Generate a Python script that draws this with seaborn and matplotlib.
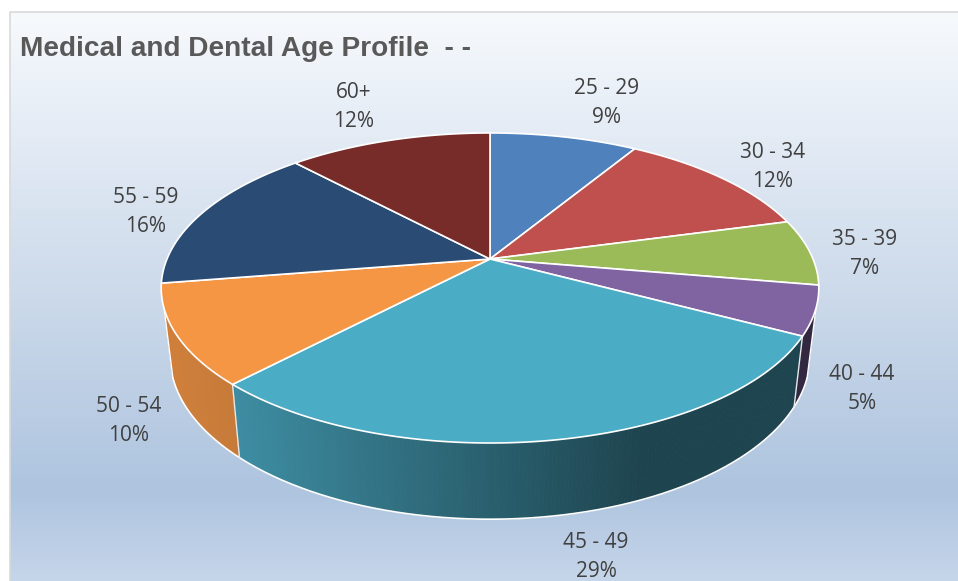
import numpy as np
import seaborn as sns
import matplotlib.pyplot as plt
from matplotlib.colors import to_rgb

age_groups = ["25 - 29", "30 - 34", "35 - 39", "40 - 44", "45 - 49", "50 - 54", "55 - 59", "60+"]
shares = [8.7, 12.1, 6.9, 5.1, 29.3, 10.4, 15.5, 12.0]
slice_colors = ["#4f81bd", "#c0504d", "#9bbb59", "#8064a2", "#4bacc6", "#f59645", "#2a4b73", "#772c2a"]
title = "Medical and Dental Age Profile  - -"

# label centres in pixels, same order as age_groups
label_xy = [(607, 103), (773, 167), (865, 254), (862, 389), (596, 557), (129, 421), (146, 212), (354, 107)]

sns.set_style("white")
plt.rcParams["font.family"] = ["Open Sans", "DejaVu Sans"]
palette = sns.color_palette(slice_colors)

CX, CY = 490, 259
K, A, B = 0.187, 149.6, 323.0
WALL_TOP = 308  # wall disappears behind the rim above this pixel row


def top_face(theta):
    # clockwise from 12 o'clock, tilted circle seen in perspective
    sx, cy = np.sin(theta), np.cos(theta)
    d = 1 + K * cy
    return CX + B * sx / d, CY - A * cy / d


def bottom_face(theta):
    x, y = top_face(theta)
    return CX + 0.973 * (x - CX), CY + 67 + 1.05 * (y - CY)


fig, ax = plt.subplots(figsize=(9.58, 5.81), dpi=100)
fig.subplots_adjust(0, 0, 1, 1)
ax.axis("off")

# background gradient
rows = np.arange(12, 581)
stops_y = [12, 120, 300, 490, 581]
stops_c = np.array([to_rgb(c) for c in ["#f7fafd", "#e6edf6", "#cbd9ea", "#aec4df", "#c6d6ea"]])
grad = np.stack([np.interp(rows, stops_y, stops_c[:, i]) for i in range(3)], axis=1)[:, None, :]
ax.imshow(grad, extent=(10, 958, 581, 12), aspect="auto", zorder=0, interpolation="bilinear")
ax.set_xlim(0, 958)
ax.set_ylim(581, 0)
ax.plot([10, 10, 958], [581, 12, 12], color="#d9d9d9", lw=1.2, zorder=1)

edges = np.radians(np.concatenate([[0], np.cumsum(shares)]) * 3.6)

# side wall strips
for i in range(len(shares)):
    th = np.linspace(edges[i], edges[i + 1], max(int(shares[i] * 6), 8))
    for a, b in zip(th[:-1], th[1:]):
        tx, ty = top_face(np.array([a, b]))
        if ty.min() < WALL_TOP:
            continue
        bx, by = bottom_face(np.array([a, b]))
        f = np.interp(tx.mean(), [165, 240, 640], [0.85, 0.81, 0.40])
        shade = tuple(c * f for c in palette[i])
        ax.fill([tx[0], tx[1], bx[1], bx[0]], [ty[0], ty[1], by[1], by[0]],
                facecolor=shade, edgecolor=shade, lw=0.6, zorder=2)

# bottom rim, silhouette lines and slice dividers on the wall
th = np.linspace(0, 2 * np.pi, 800)
tx, ty = top_face(th)
keep = ty >= WALL_TOP
bx, by = bottom_face(th)
ax.plot(bx[keep], by[keep], color="white", lw=1.2, zorder=3)
for j in [np.argmax(keep), len(keep) - 1 - np.argmax(keep[::-1])]:
    ax.plot([tx[j], bx[j]], [ty[j], by[j]], color="white", lw=1, zorder=3)
for e in edges[:-1]:
    ex, ey = top_face(np.array([e]))
    fx, fy = bottom_face(np.array([e]))
    if ey[0] >= WALL_TOP:
        ax.plot([ex[0], fx[0]], [ey[0], fy[0]], color="#e8e8e8", lw=1, zorder=3)

# top face
for i in range(len(shares)):
    th = np.linspace(edges[i], edges[i + 1], 120)
    x, y = top_face(th)
    ax.fill(np.r_[CX, x], np.r_[CY, y], facecolor=palette[i], edgecolor="white", lw=1.2,
            joinstyle="round", zorder=4)

for name, pct, (x, y) in zip(age_groups, shares, label_xy):
    ax.text(x, y, f"{name}\n{round(pct)}%", ha="center", va="center", fontsize=15, color="#404040",
            linespacing=1.5, zorder=5)

ax.text(20, 49.5, title, ha="left", va="center", fontsize=20.2, fontweight="bold",
        family=["Liberation Sans", "DejaVu Sans"], color="#595959", zorder=5)

fig.savefig("out.png", dpi=100)
